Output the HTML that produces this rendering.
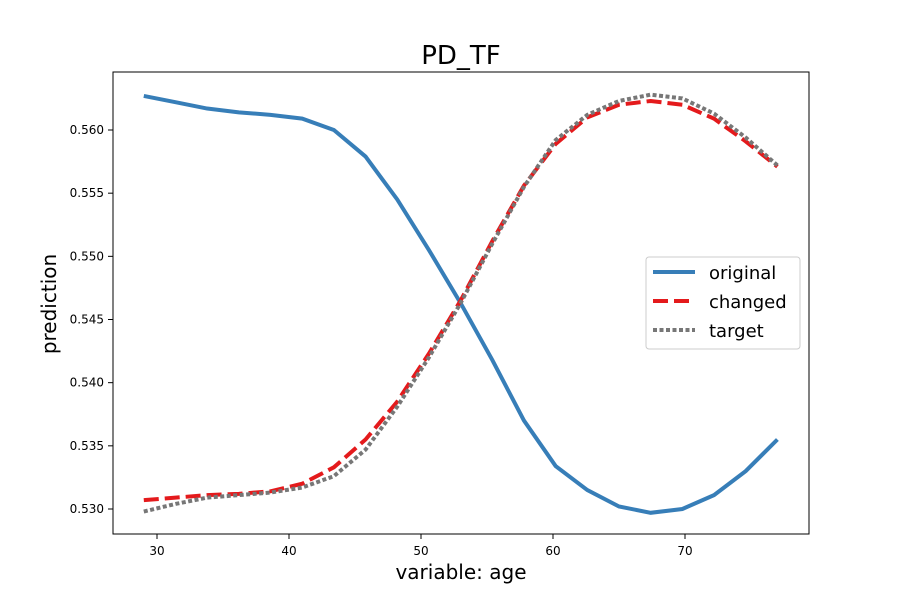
<!DOCTYPE html>
<html><head><meta charset="utf-8"><style>
body{margin:0;background:#fff;}
svg text{font-family:"DejaVu Sans","Liberation Sans",sans-serif;}
</style></head><body>
<svg id="chart" width="900" height="600" xmlns="http://www.w3.org/2000/svg">
<rect width="900" height="600" fill="#fff"/>
<text x="461" y="64" font-size="26" text-anchor="middle">PD_TF</text>
<text x="461" y="579" font-size="20" text-anchor="middle">variable: age</text>
<text x="0" y="0" font-size="20" text-anchor="middle" transform="translate(56,304) rotate(-90)">prediction</text>
<g id="ticks"></g>
<g id="series"></g>
<rect x="113" y="72" width="696" height="462" fill="none" stroke="#000" stroke-width="1"/>
<g>
<rect x="646" y="257" width="154" height="92" rx="3" fill="#fff" fill-opacity="0.8" stroke="#ccc"/>
<line x1="653" y1="272" x2="695" y2="272" stroke="#377eb8" stroke-width="4"/>
<text x="709" y="279" font-size="18">original</text>
<line x1="653" y1="301" x2="695" y2="301" stroke="#e41a1c" stroke-width="4" stroke-dasharray="15,6"/>
<text x="709" y="308" font-size="18">changed</text>
<line x1="653" y1="330" x2="695" y2="330" stroke="#777" stroke-width="4" stroke-dasharray="4,2.5"/>
<text x="709" y="337" font-size="18">target</text>
</g>
</svg>
<script>
const ages=[29,31.4,33.8,36.2,38.6,41,43.4,45.8,48.2,50.6,53,55.4,57.8,60.2,62.6,65,67.4,69.8,72.2,74.6,77];
const original=[0.5627,0.5622,0.5617,0.5614,0.5612,0.5609,0.5600,0.5579,0.5545,0.5505,0.5463,0.5418,0.5370,0.5334,0.5315,0.5302,0.5297,0.5300,0.5311,0.5330,0.5355];
const changed=[0.5307,0.5309,0.5311,0.5312,0.5314,0.5320,0.5333,0.5355,0.5385,0.5423,0.5465,0.5512,0.5556,0.5589,0.5610,0.5620,0.5623,0.5620,0.5609,0.5591,0.5571];
const target=[0.5298,0.5304,0.5309,0.5311,0.5313,0.5317,0.5326,0.5347,0.5381,0.5420,0.5463,0.5510,0.5555,0.5592,0.5612,0.5623,0.5628,0.5625,0.5613,0.5594,0.5572];
const xTicks=[30,40,50,60,70];
const yTicks=[0.530,0.535,0.540,0.545,0.550,0.555,0.560];
const NS="http://www.w3.org/2000/svg";
function xs(v){return 157+(v-30)*13.2;}
function ys(v){return 509-(v-0.530)*12633;}
const tg=document.getElementById('ticks');
xTicks.forEach(t=>{
  const l=document.createElementNS(NS,'line');
  l.setAttribute('x1',xs(t));l.setAttribute('x2',xs(t));l.setAttribute('y1',534);l.setAttribute('y2',539);l.setAttribute('stroke','#000');
  
  
  tg.appendChild(l);
  const tx=document.createElementNS(NS,'text');
  tx.setAttribute('x',xs(t));tx.setAttribute('y',555);tx.setAttribute('font-size','12');tx.setAttribute('text-anchor','middle');tx.textContent=t;
  
  
  tg.appendChild(tx);
});
yTicks.forEach(t=>{
  const l=document.createElementNS(NS,'line');
  l.setAttribute('x1',108);l.setAttribute('x2',113);l.setAttribute('y1',ys(t));l.setAttribute('y2',ys(t));l.setAttribute('stroke','#000');
  
  
  tg.appendChild(l);
  const tx=document.createElementNS(NS,'text');
  tx.setAttribute('x',104);tx.setAttribute('y',ys(t)+4);tx.setAttribute('font-size','12');tx.setAttribute('text-anchor','end');tx.textContent=t.toFixed(3);
  
  
  tg.appendChild(tx);
});
const sg=document.getElementById('series');
function line(vals,color,dash,name){
  const p=document.createElementNS(NS,'polyline');
  p.setAttribute('points',vals.map((v,i)=>xs(ages[i])+','+ys(v)).join(' '));
  p.setAttribute('fill','none');p.setAttribute('stroke',color);p.setAttribute('stroke-width','4');
  if(dash)p.setAttribute('stroke-dasharray',dash);
  
  
  sg.appendChild(p);
}
line(original,'#377eb8',null,'original-line');
line(changed,'#e41a1c','15,6','changed-line');
line(target,'#777','4,2.5','target-line');
</script>
</body></html>
